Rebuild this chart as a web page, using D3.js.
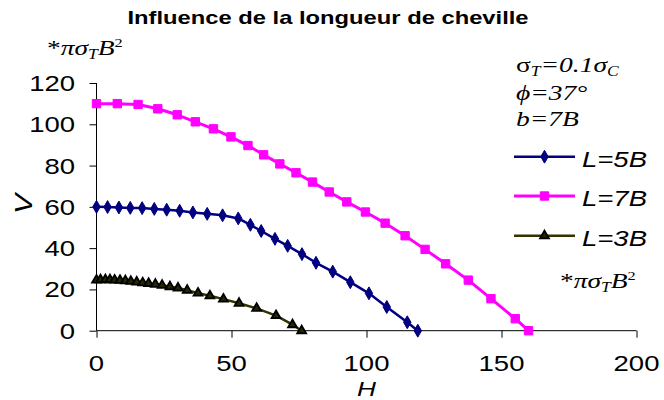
<!DOCTYPE html>
<html>
<head>
<meta charset="utf-8">
<script src="https://cdn.jsdelivr.net/npm/d3@7"></script>
<style>
  html, body { margin: 0; padding: 0; background: #fff; }
  svg { display: block; }
</style>
</head>
<body>
<svg id="chart" width="664" height="400"></svg>
<script>
// Ultimate load V against horizontal load H, for three anchor lengths L
const title = "Influence de la longueur de cheville";

const seriesNames = ["L=5B", "L=7B", "L=3B"];

const h5 = [0, 4.1, 8.3, 12.5, 16.9, 21.4, 26, 30.8, 35.7, 41, 46.7, 52.5, 57, 61, 66.1, 70.8, 76.1, 81.3, 87.5, 94, 100.9, 107.5, 115.1, 119];
const v5 = [60, 59.9, 59.7, 59.5, 59.4, 59.0, 58.6, 58.1, 57.3, 56.6, 55.9, 54.4, 51.3, 48.3, 44.5, 41.1, 37.1, 32.9, 28.6, 23.5, 18.1, 11.5, 4.1, 0];

const h7 = [0, 7.7, 15.4, 22.7, 29.9, 36.6, 43.3, 49.8, 56.1, 61.9, 67.9, 73.9, 80, 86.2, 92.7, 99.6, 106.9, 114.3, 121.7, 129.3, 137.7, 146.1, 155.1, 160];
const v7 = [110, 110, 109.6, 107.5, 104.6, 101.2, 97.8, 93.9, 89.7, 85.2, 80.8, 76.5, 72, 67.2, 62.4, 57.5, 52.1, 46, 39.4, 32.4, 24.5, 15.5, 5.8, 0];

const h3 = [0, 1.5, 3.3, 5.0, 6.7, 8.7, 10.7, 12.7, 14.9, 17.1, 19.3, 21.8, 24.3, 27.2, 30.2, 33.6, 37.6, 42.0, 47.0, 52.8, 59.3, 66.5, 72.6, 76];
const v3 = [24.5, 24.7, 24.7, 24.7, 24.5, 24.4, 24.2, 23.9, 23.6, 23.2, 22.9, 22.5, 22.0, 21.3, 20.7, 19.6, 18.2, 16.9, 15.3, 13.3, 10.8, 7.3, 2.9, 0];

const xTicks = [0, 50, 100, 150, 200];
const yTicks = [0, 20, 40, 60, 80, 100, 120];

const series = [
  { name: seriesNames[0], h: h5, v: v5, color: "#000080", marker: "diamond" },
  { name: seriesNames[1], h: h7, v: v7, color: "#ff00ff", marker: "square" },
  { name: seriesNames[2], h: h3, v: v3, color: "#333300", marker: "triangle" }
];

const svg = d3.select("#chart");
const SX = 1.25;           // horizontal text stretch
const SANS = "'Liberation Sans', Arial, sans-serif";
const SERIF = "'Liberation Serif', 'Times New Roman', serif";

const x = d3.scaleLinear().domain([0, 200]).range([96.5, 636.5]);
const y = d3.scaleLinear().domain([0, 120]).range([330.7, 83]);

function stretchedText(px, py, str, opts) {
  const t = svg.append("text")
    .attr("transform", `translate(${px},${py}) scale(${SX},1)`)
    .attr("font-family", opts.family || SANS)
    .attr("font-size", opts.size)
    .attr("font-weight", opts.weight || "normal")
    .attr("font-style", opts.style || "normal")
    .attr("text-anchor", opts.anchor || "start")
    .attr("fill", "#000");
  if (str !== null) t.text(str);
  return t;
}

// Title
stretchedText(328, 24, title, { size: 19, weight: "bold", anchor: "middle" });

// Axes
const xAxis = d3.axisBottom(x).tickValues(xTicks).tickSize(7).tickFormat("");
const yAxis = d3.axisLeft(y).tickValues(yTicks).tickSize(7).tickFormat("");

const gx = svg.append("g").attr("transform", `translate(0,${y(0)})`).call(xAxis);
const gy = svg.append("g").attr("transform", `translate(${x(0)},0)`).call(yAxis);
[gx, gy].forEach(g => {
  g.select(".domain").attr("stroke", "#000").attr("stroke-width", 1);
  g.selectAll(".tick line").attr("stroke", "#000").attr("stroke-width", 1);
});
gx.select(".domain").attr("d", `M${x(0)},0H${x(200)}`);
gy.select(".domain").attr("d", `M0,${y(120)}V${y(0)}`);

// Tick labels
xTicks.forEach(t => stretchedText(x(t), 371, String(t), { size: 22, anchor: "middle" }));
yTicks.forEach(t => stretchedText(75, y(t) + 8, String(t), { size: 22, anchor: "end" }));

// Axis titles
stretchedText(366.5, 396, "H", { size: 21, style: "italic", anchor: "middle" });
svg.append("text")
  .attr("transform", `translate(32,204) rotate(-90) scale(${SX},1)`)
  .attr("font-family", SANS).attr("font-size", 24).attr("font-style", "italic")
  .attr("text-anchor", "middle").text("V");

// Series lines and markers
const line = d3.line().x(d => x(d[0])).y(d => y(d[1]));
const symbolFor = { diamond: d3.symbolDiamond, square: d3.symbolSquare, triangle: d3.symbolTriangle };
const symbolSize = { diamond: 48, square: 70, triangle: 34 };

function drawMarker(g, kind, color, cx, cy) {
  const p = g.append("path")
    .attr("d", d3.symbol().type(symbolFor[kind]).size(symbolSize[kind])())
    .attr("transform", `translate(${cx},${cy})`);
  if (kind === "triangle") {
    p.attr("fill", "#262600").attr("stroke", "#000").attr("stroke-width", 1.8);
  } else {
    p.attr("fill", color).attr("stroke", color).attr("stroke-width", 1);
  }
}

series.forEach(s => {
  const pts = s.h.map((h, i) => [h, s.v[i]]);
  svg.append("path").datum(pts)
    .attr("d", line)
    .attr("fill", "none")
    .attr("stroke", s.color)
    .attr("stroke-width", s.marker === "square" ? 3 : 2.5)
    .attr("stroke-linejoin", "round");
  const g = svg.append("g");
  pts.forEach(p => drawMarker(g, s.marker, s.color, x(p[0]), y(p[1])));
});

// Legend
const legendY = [156.7, 196, 235.7];
series.forEach((s, i) => {
  const ly = legendY[i];
  svg.append("line").attr("x1", 514).attr("x2", 575).attr("y1", ly).attr("y2", ly)
    .attr("stroke", s.color).attr("stroke-width", s.marker === "square" ? 3 : 2.5);
  drawMarker(svg, s.marker, s.color, 544.5, ly);
  stretchedText(582, ly + 10, s.name, { size: 22, style: "italic" });
});

// Parameter notes
function unitLabel(px, py) {
  const t = stretchedText(px, py, null, { size: 22, family: SERIF });
  t.append("tspan").text("*");
  t.append("tspan").attr("font-style", "italic").text("πσ");
  t.append("tspan").attr("font-style", "italic").attr("font-size", 14).attr("dy", 4).text("T");
  t.append("tspan").attr("font-style", "italic").attr("dy", -4).text("B");
  t.append("tspan").attr("font-size", 13).attr("dy", -8).text("2");
}
unitLabel(47, 55);
unitLabel(560, 288);

const sig = stretchedText(516, 72, null, { size: 22, family: SERIF });
sig.append("tspan").text("σ");
sig.append("tspan").attr("font-style", "italic").attr("font-size", 14).attr("dy", 4).text("T");
sig.append("tspan").attr("font-style", "italic").attr("dy", -4).text("=0.1");
sig.append("tspan").attr("font-style", "italic").text("σ");
sig.append("tspan").attr("font-style", "italic").attr("font-size", 14).attr("dy", 4).text("C");

stretchedText(516, 100, "ϕ=37°", { size: 22, family: SERIF, style: "italic" });
stretchedText(516, 126, "b=7B", { size: 22, family: SERIF, style: "italic" });
</script>
</body>
</html>
